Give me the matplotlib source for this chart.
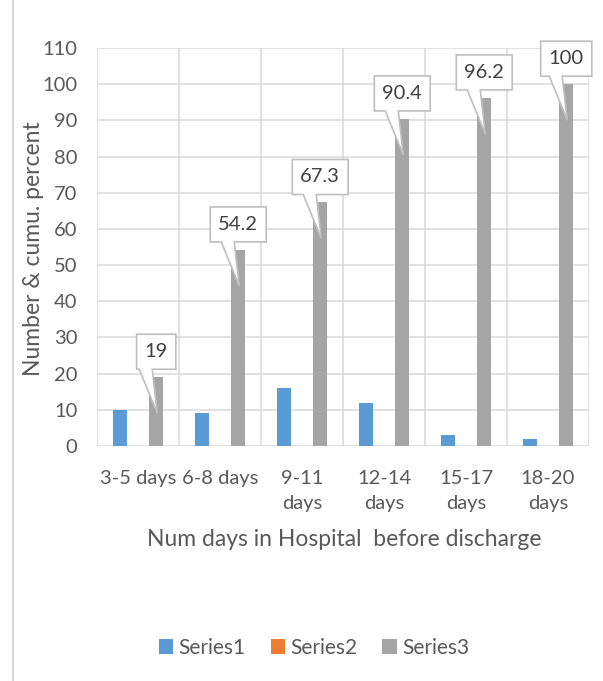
"""
Length of stay chart: number of patients per stay band and cumulative percent.
"""

import numpy as np
import matplotlib
matplotlib.use("Agg")
import matplotlib.pyplot as plt
from matplotlib.patches import Polygon
from matplotlib.lines import Line2D
from matplotlib.transforms import IdentityTransform


# =============================================================================
# Data
# =============================================================================

categories = ["3-5 days", "6-8 days", "9-11\ndays", "12-14\ndays", "15-17\ndays", "18-20\ndays"]
series1 = [10, 9, 16, 12, 3, 2]
series2 = [0, 0, 0, 0, 0, 0]
series3 = [19, 54.2, 67.3, 90.4, 96.2, 100]
series_names = ["Series1", "Series2", "Series3"]
y_ticks = list(range(0, 111, 10))

# -----------------------------------------------------------------------------
BLUE = "#5B9BD5"
ORANGE = "#ED7D31"
GRAY = "#A5A5A5"
GRID = "#D9D9D9"
TEXT = "#595959"
FONT = "Lato"


def draw_callout(ax, renderer, x, value, label):
    """Excel style callout box pointing down into the bar top."""
    cx, ty = ax.transData.transform((x, value))
    txt = ax.text(cx, ty + 8 + 17.5, label, transform=IdentityTransform(),
                  ha="center", va="center", fontsize=14.5, family=FONT,
                  color="#404040", zorder=6, clip_on=False)
    w = txt.get_window_extent(renderer).width + 16
    bottom, top = ty + 8, ty + 43
    left, right = cx - w / 2, cx + w / 2
    verts = [(left, bottom), (cx - 17, bottom), (cx + 1, ty - 36), (cx - 4, bottom),
             (right, bottom), (right, top), (left, top)]
    ax.add_patch(Polygon(verts, closed=True, facecolor="white", edgecolor="#BFBFBF",
                         linewidth=1.2, transform=IdentityTransform(),
                         zorder=5, clip_on=False))


def main():
    fig = plt.figure(figsize=(6.03, 6.81), dpi=100)
    ax = fig.add_axes([97 / 603, 1 - 446 / 681, 492 / 603, 398 / 681])

    x = np.arange(len(categories))
    width, offset = 0.171, 0.2226
    b1 = ax.bar(x - offset, series1, width, color=BLUE, zorder=2, label=series_names[0])
    b2 = ax.bar(x, series2, width, color=ORANGE, zorder=2, label=series_names[1])
    b3 = ax.bar(x + offset, series3, width, color=GRAY, zorder=2, label=series_names[2])

    ax.set_xlim(-0.5, len(categories) - 0.5)
    ax.set_ylim(0, 110)
    ax.set_yticks(y_ticks)
    ax.set_xticks(x)
    ax.set_xticklabels(categories, linespacing=1.6)

    # grid: horizontal at ticks, vertical at category boundaries
    for yv in y_ticks:
        ax.axhline(yv, color=GRID, linewidth=1.1, zorder=1)
    for xv in np.arange(-0.5, len(categories), 1.0):
        ax.axvline(xv, color=GRID, linewidth=1.1, zorder=1)

    for side in ax.spines.values():
        side.set_visible(False)
    ax.tick_params(axis="both", length=0, labelsize=14.5, labelcolor=TEXT)
    ax.tick_params(axis="x", pad=17)
    ax.tick_params(axis="y", pad=14)
    for lab in ax.get_xticklabels() + ax.get_yticklabels():
        lab.set_family(FONT)

    ax.set_ylabel("Number & cumu. percent", fontsize=16.5, family=FONT, color=TEXT)
    ax.yaxis.set_label_coords((44 - 97) / 492, 0.5 - (247 - 245) / 398)
    fig.text(344 / 603, 1 - 539 / 681, "Num days in Hospital  before discharge",
             ha="center", va="center", fontsize=16.5, family=FONT, color=TEXT)

    # callouts on the cumulative series
    renderer = fig.canvas.get_renderer()
    for xi, v in zip(x, series3):
        draw_callout(ax, renderer, xi + offset, v, f"{v:g}")

    leg = fig.legend(handles=[b1, b2, b3], loc="center", ncol=3,
                     bbox_to_anchor=(314 / 603, 1 - 648 / 681), frameon=False,
                     handlelength=0.7, handleheight=0.7, handletextpad=0.25,
                     columnspacing=1.2, prop={"family": FONT, "size": 15})
    for t in leg.get_texts():
        t.set_color(TEXT)

    # chart area border on the left
    fig.add_artist(Line2D([12.5 / 603, 12.5 / 603], [0, 1], color=GRID, linewidth=1.5))

    fig.savefig("out.png", dpi=100)


if __name__ == "__main__":
    main()
